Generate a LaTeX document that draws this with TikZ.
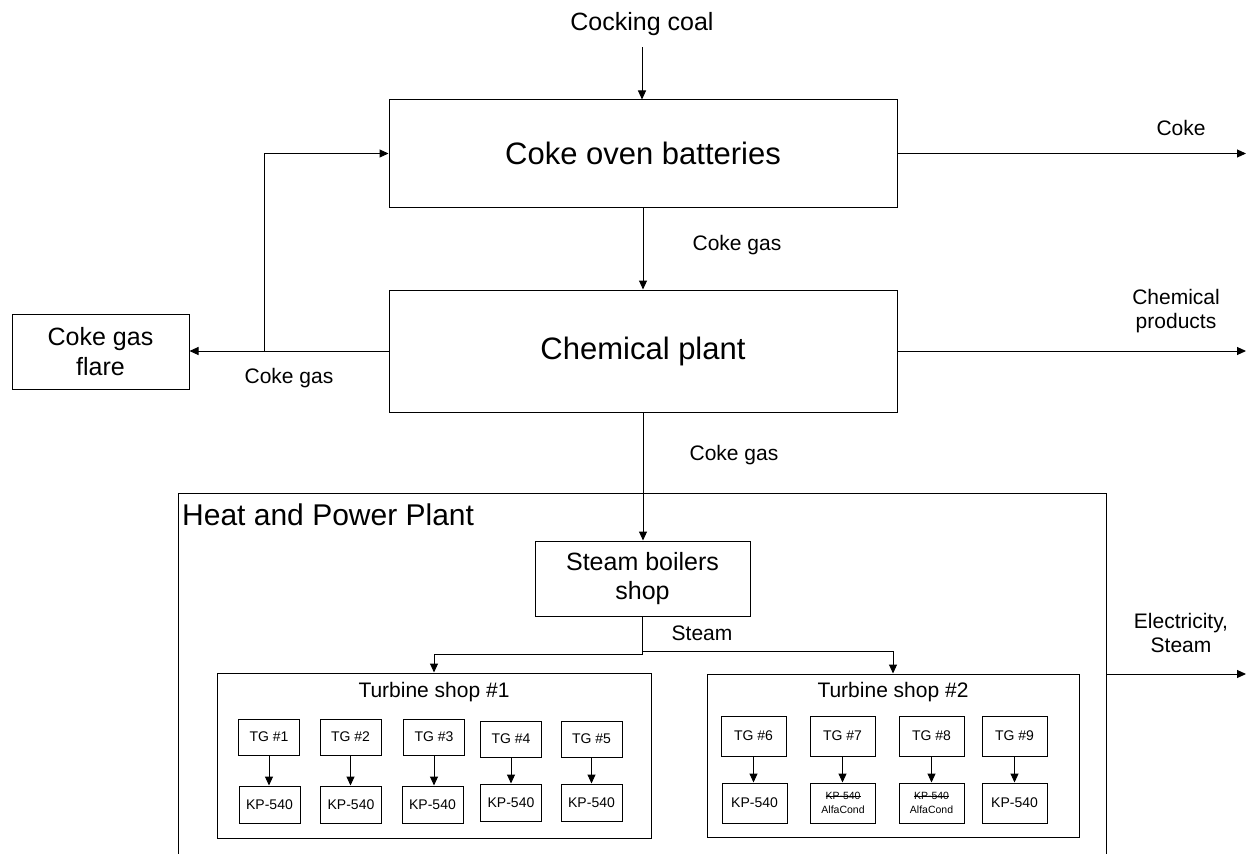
\documentclass[tikz,border=0pt]{standalone}
\usepackage{fontspec}
\setmainfont{Liberation Sans}
\usetikzlibrary{arrows.meta}
\newcommand\strk[1]{\begingroup\setbox0\hbox{#1}\rlap{\raisebox{0.3em}{\rule{\wd0}{0.55pt}}}\box0\endgroup}
\begin{document}
\begin{tikzpicture}[x=1pt,y=-1pt,
  box/.style={draw=black, line width=1pt, rectangle, inner sep=0pt, align=center},
  arr/.style={draw=black, line width=1pt, -{Triangle[length=9pt,width=8pt]}},
  lbl/.style={inner sep=0pt, align=center, font=\fontsize{21}{24}\selectfont},
  big/.style={font=\fontsize{31}{36}\selectfont},
  mid/.style={font=\fontsize{25}{29.5}\selectfont},
  tgbox/.style={box, minimum width=61pt, minimum height=36pt, font=\fontsize{14}{16}\selectfont},
  tgboxb/.style={box, minimum width=65pt, minimum height=40pt, font=\fontsize{14}{16}\selectfont},
  alfa/.style={box, minimum width=65pt, minimum height=40pt, font=\fontsize{10.5}{14}\selectfont}]
\path[use as bounding box] (0,0) rectangle (1246,853);
\fill[white] (0,0) rectangle (1246,853);
\clip (0,0) rectangle (1246,853);

% main boxes
\node[anchor=base, inner sep=0pt, font=\fontsize{25}{29}\selectfont] (coal) at (642,31) {Cocking coal};
\node[box, big, minimum width=508pt, minimum height=107pt] (cob) at (643,153.5) {Coke oven batteries};
\node[box, big, minimum width=508pt, minimum height=122pt] (chem) at (643,351) {Chemical plant};
\node[box, mid, minimum width=177pt, minimum height=75pt] (flare) at (100.5,351.5) {Coke gas\\flare};

% heat and power plant
\node[box, minimum width=928pt, minimum height=377pt] (hpp) at (642,681.5) {};
\node[anchor=base west, inner sep=0pt, font=\fontsize{30}{34}\selectfont] (hpptitle) at (182,525) {Heat and Power Plant};
\node[box, mid, minimum width=215pt, minimum height=75pt] (boil) at (642.5,578.5) {Steam boilers\\shop};

\node[box, minimum width=434pt, minimum height=165pt] (ts1) at (434,755.5) {};
\node[box, minimum width=372pt, minimum height=163pt] (ts2) at (893,755.5) {};
\node[lbl, anchor=base] (ts1t) at (434,697) {Turbine shop \#1};
\node[lbl, anchor=base] (ts2t) at (893,697) {Turbine shop \#2};

% turbine shop 1
\node[tgbox] (tg1) at (269,737) {TG \#1};
\node[tgbox] (tg2) at (350.5,737) {TG \#2};
\node[tgbox] (tg3) at (434,737) {TG \#3};
\node[tgbox] (tg4) at (511,739) {TG \#4};
\node[tgbox] (tg5) at (591.5,739) {TG \#5};
\node[tgbox, minimum height=37pt] (kp1) at (269.5,804.5) {KP-540};
\node[tgbox, minimum height=37pt] (kp2) at (351,804.5) {KP-540};
\node[tgbox, minimum height=37pt] (kp3) at (432.5,804.5) {KP-540};
\node[tgbox, minimum height=37pt] (kp4) at (511,802.5) {KP-540};
\node[tgbox, minimum height=37pt] (kp5) at (591.5,802.5) {KP-540};

% turbine shop 2
\node[tgboxb] (tg6) at (753.5,736) {TG \#6};
\node[tgboxb] (tg7) at (842.5,736) {TG \#7};
\node[tgboxb] (tg8) at (931.5,736) {TG \#8};
\node[tgboxb] (tg9) at (1014.5,736) {TG \#9};
\node[tgboxb] (kp6) at (754.5,803) {KP-540};
\node[alfa] (kp7) at (843,803) {\strk{KP-540}\\AlfaCond};
\node[alfa] (kp8) at (931.5,803) {\strk{KP-540}\\AlfaCond};
\node[tgboxb] (kp9) at (1014.5,803) {KP-540};

% labels
\node[lbl, anchor=base] (lcoke) at (1181,136) {Coke};
\node[lbl, anchor=base] (lgas1) at (737,250) {Coke gas};
\node[lbl] (lchem) at (1176,311.5) {Chemical\\products};
\node[lbl, anchor=base] (lgas2) at (289,383) {Coke gas};
\node[lbl, anchor=base] (lgas3) at (734,460) {Coke gas};
\node[lbl, anchor=base] (lsteam) at (702,640) {Steam};
\node[lbl] (lelec) at (1181,633) {Electricity,\\Steam};

% free ends
\coordinate (cokeend) at (1246,153.5);
\coordinate (chemend) at (1246,351);
\coordinate (elecend) at (1246,674);
\coordinate (br) at (264,351);

% connectors
\draw[arr, shorten <=11pt] (coal.south) -- (coal.south |- cob.north);
\draw[arr] (cob.east) -- (cokeend);
\draw[arr] (cob.south) -- (chem.north);
\draw[arr] (chem.east) -- (chemend);
\draw[arr] (chem.west) -- (chem.west -| flare.east);
\draw[arr] (br) |- (cob.west);
\draw[arr] (chem.south) -- (chem.south |- boil.north);
\draw[arr] (boil.south) -- ++(0,38) -| (ts1.north);
\draw[arr] ([yshift=-35pt]boil.south) -| (ts2.north);
\draw[arr] (hpp.east |- elecend) -- (elecend);

\foreach \i in {1,...,9}{
  \draw[arr] (tg\i.south) -- (tg\i.south |- kp\i.north);
}
\end{tikzpicture}
\end{document}
